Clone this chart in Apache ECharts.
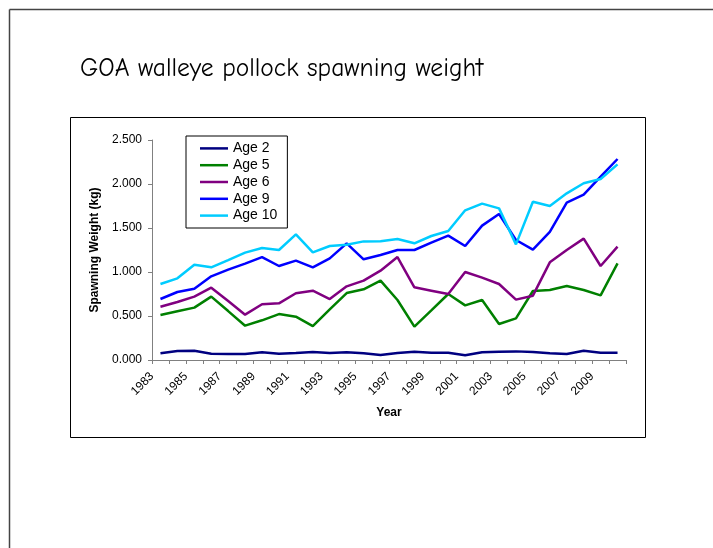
<!DOCTYPE html>
<html>
<head>
<meta charset="utf-8">
<style>
  html, body { margin: 0; padding: 0; background: #ffffff; }
  #chart { width: 713px; height: 548px; }
</style>
<script src="https://cdn.jsdelivr.net/npm/echarts@6/dist/echarts.min.js"></script>
</head>
<body>
<div id="chart"></div>
<script>
// Survey years
var years = ['1983','1984','1985','1986','1987','1988','1989','1990','1991','1992',
             '1993','1994','1995','1996','1997','1998','1999','2000','2001','2002',
             '2003','2004','2005','2006','2007','2008','2009','2010'];

// Mean spawning weight (kg) by age
var age2  = [0.076,0.102,0.105,0.072,0.068,0.068,0.087,0.072,0.080,0.091,0.080,0.087,0.076,0.057,
             0.080,0.095,0.083,0.083,0.053,0.087,0.095,0.098,0.090,0.076,0.068,0.106,0.083,0.083];
var age5  = [0.511,0.553,0.595,0.720,0.556,0.390,0.451,0.522,0.492,0.386,0.576,0.761,0.803,0.902,
             0.682,0.379,0.564,0.750,0.621,0.682,0.409,0.473,0.784,0.795,0.841,0.795,0.735,1.098];
var age6  = [0.606,0.659,0.720,0.822,0.670,0.515,0.633,0.644,0.758,0.788,0.693,0.837,0.902,1.015,
             1.170,0.826,0.788,0.750,1.000,0.936,0.864,0.686,0.731,1.110,1.250,1.379,1.068,1.288];
var age9  = [0.693,0.773,0.810,0.951,1.027,1.095,1.170,1.068,1.129,1.053,1.155,1.326,1.144,1.193,
             1.250,1.250,1.333,1.413,1.295,1.527,1.659,1.364,1.254,1.455,1.788,1.879,2.083,2.284];
var age10 = [0.864,0.928,1.083,1.053,1.136,1.220,1.273,1.250,1.428,1.223,1.295,1.310,1.348,1.350,
             1.375,1.326,1.409,1.466,1.701,1.777,1.723,1.314,1.799,1.750,1.894,2.008,2.057,2.223];

var seriesNames  = ['Age 2','Age 5','Age 6','Age 9','Age 10'];
var seriesData   = [age2, age5, age6, age9, age10];
var seriesColors = ['#000080','#008000','#800080','#0000ff','#00ccff'];

var font = "'Liberation Sans', Arial, sans-serif";

var chart = echarts.init(document.getElementById('chart'), null, { renderer: 'canvas' });

chart.setOption({
  backgroundColor: '#ffffff',
  animation: false,
  title: {
    text: 'GOA walleye pollock spawning weight',
    left: 75,
    top: 51,
    textStyle: {
      fontFamily: "'Comic Sans MS', 'Comic Neue', 'DejaVu Sans', sans-serif",
      fontSize: 25.5,
      fontWeight: 'normal',
      color: '#000000'
    }
  },
  graphic: [
    // slide frame
    { type: 'line', z: 0, shape: { x1: 9.5, y1: 9.5, x2: 713, y2: 9.5 },
      style: { stroke: '#444444', lineWidth: 1.5 } },
    { type: 'line', z: 0, shape: { x1: 9.5, y1: 9.5, x2: 9.5, y2: 548 },
      style: { stroke: '#444444', lineWidth: 1.5 } },
    // chart frame
    { type: 'rect', z: 0, shape: { x: 70.5, y: 117.5, width: 575, height: 320 },
      style: { fill: '#ffffff', stroke: '#000000', lineWidth: 1 } }
  ],
  legend: {
    orient: 'vertical',
    left: 186,
    top: 136,
    padding: [4, 10, 4, 14],
    icon: 'rect',
    itemWidth: 28,
    itemHeight: 2.5,
    itemGap: 0,
    itemTextGap: 3,
    backgroundColor: '#ffffff',
    borderColor: '#000000',
    borderWidth: 1,
    borderRadius: 0,
    textStyle: { fontFamily: font, fontSize: 14, color: '#000000', lineHeight: 16.8 },
    data: seriesNames
  },
  grid: {
    left: 152,
    right: 87,
    top: 140,
    bottom: 188,
    containLabel: false
  },
  xAxis: {
    type: 'category',
    data: years,
    boundaryGap: true,
    name: 'Year',
    nameLocation: 'middle',
    nameGap: 47,
    nameTextStyle: { fontFamily: font, fontSize: 12, fontWeight: 'bold', color: '#000000' },
    axisLine: { lineStyle: { color: '#808080', width: 1 } },
    axisTick: { show: true, interval: 0, length: 4, alignWithLabel: false, lineStyle: { color: '#808080' } },
    axisLabel: {
      interval: 1,
      rotate: 45,
      margin: 6,
      padding: [0, 12, 0, 0],
      fontFamily: font,
      fontSize: 12,
      color: '#000000'
    },
    splitLine: { show: false }
  },
  yAxis: {
    type: 'value',
    min: 0,
    max: 2.5,
    interval: 0.5,
    name: 'Spawning Weight (kg)',
    nameLocation: 'middle',
    nameGap: 51,
    nameTextStyle: { fontFamily: font, fontSize: 12, fontWeight: 'bold', color: '#000000' },
    axisLine: { show: true, lineStyle: { color: '#808080', width: 1 } },
    axisTick: { show: true, length: 4, lineStyle: { color: '#808080' } },
    axisLabel: {
      margin: 10,
      fontFamily: font,
      fontSize: 12,
      color: '#000000',
      formatter: function (v) { return v.toFixed(3); }
    },
    splitLine: { show: false }
  },
  series: seriesNames.map(function (name, i) {
    return {
      name: name,
      type: 'line',
      data: seriesData[i],
      symbol: 'none',
      color: seriesColors[i],
      lineStyle: { color: seriesColors[i], width: 2.5 },
      z: 2 + i
    };
  })
});
</script>
</body>
</html>
